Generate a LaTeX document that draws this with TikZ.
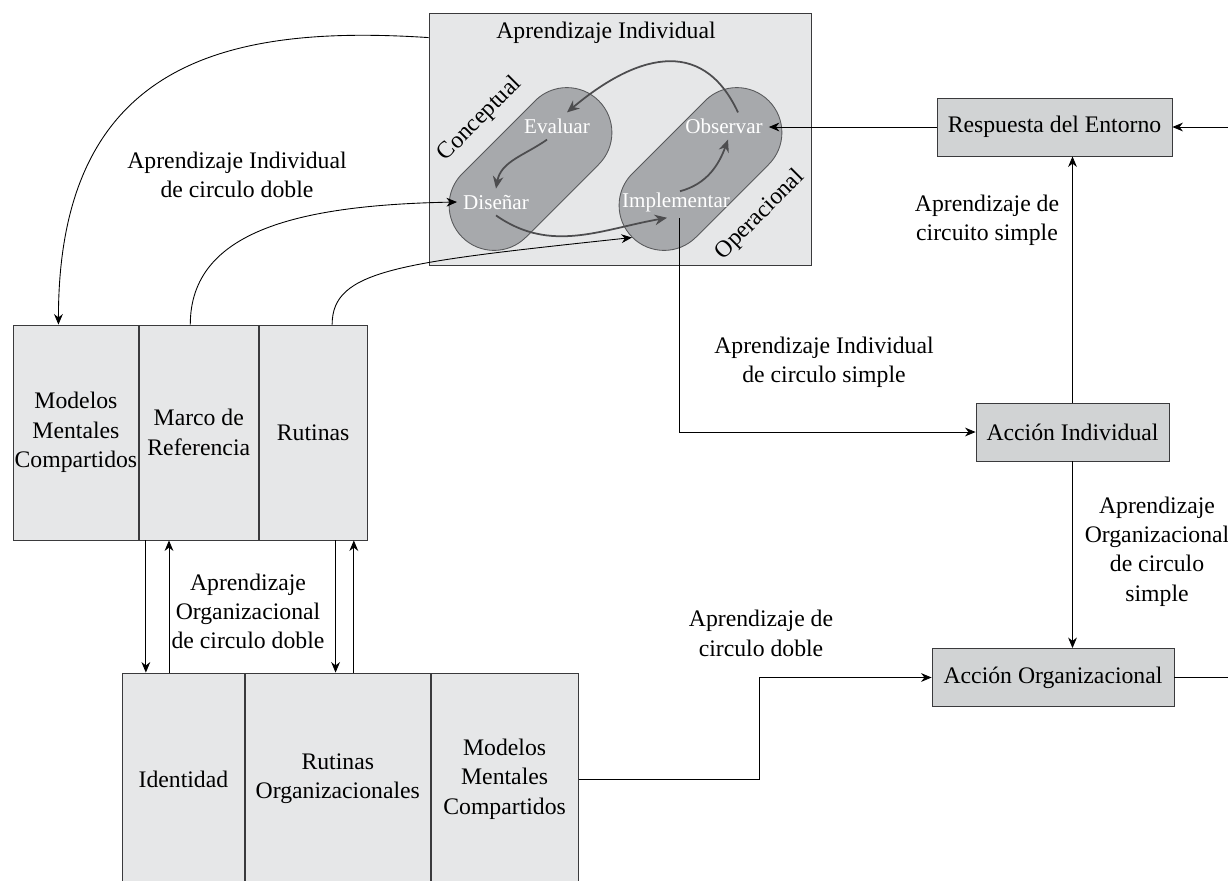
\documentclass[tikz,border=0pt]{standalone}
\usepackage{fontspec}
\setmainfont{Liberation Serif}
\usetikzlibrary{shapes.misc,arrows.meta,positioning}

\definecolor{boxfill}{HTML}{E6E7E8}
\definecolor{actfill}{HTML}{D1D3D4}
\definecolor{pillfill}{HTML}{A7A9AC}
\definecolor{pilldraw}{HTML}{58595B}
\definecolor{cycgray}{HTML}{4D4D4F}
\definecolor{framec}{HTML}{3A3A3C}

\begin{document}
\begin{tikzpicture}[x=0.02cm, y=0.02cm,
                >={Stealth[length=6pt,width=5pt]},
                every node/.style={font=\fontsize{13.5}{16.7}\selectfont},
                colbox/.style={draw=framec, rectangle, line width=0.5pt,
                fill=boxfill, inner sep=0pt, align=center, anchor=west},
                actbox/.style={draw=framec, rectangle, line width=0.5pt,
                fill=actfill, minimum height=1.16cm, inner sep=0pt},
                % the two rotated capsules
                pill/.style={draw=pilldraw, fill=pillfill, rounded rectangle,
                line width=0.5pt, minimum width=3.86cm, minimum height=1.8cm,
                inner sep=0pt, rotate=45},
                phase/.style={text=white, font=\fontsize{12}{14}\selectfont},
                lbl/.style={align=center},
                conn/.style={->, line width=0.5pt},
                cyc/.style={->, draw=cycgray, line width=1pt,
                >={Stealth[length=7pt,width=6pt]}}
                ]
  \clip (0,0) rectangle (1228,-880);

%% Aprendizaje Individual
  \node[draw=framec, fill=boxfill, line width=0.5pt, minimum width=7.64cm,
        minimum height=5.04cm, inner sep=0pt] (aibox) at (620,-139) {};
  \node (aititle) at (606,-33) {Aprendizaje Individual};
  \node[pill] (concep) at (530.5,-169) {};
  \node[pill] (operac) at (700.5,-169) {};
  \node[rotate=45] (conlbl) at (480,-119) {Conceptual};
  \node[rotate=45] (oplbl) at (760,-215) {Operacional};
  \node[phase] (evaluar) at (557,-126) {Evaluar};
  \node[phase] (disenar) at (496,-202) {Diseñar};
  \node[phase] (observar) at (724,-126) {Observar};
  \node[phase] (implementar) at (676,-202) {Implementar};

%% upper block
  \node[colbox, minimum width=2.5cm, minimum height=4.3cm] (mmc1) at (13,-432.5)
        {Modelos\\Mentales\\Compartidos};
  \node[colbox, minimum width=2.38cm, minimum height=4.3cm, right=0pt of mmc1] (marco)
        {Marco de\\Referencia};
  \node[colbox, minimum width=2.16cm, minimum height=4.3cm, right=0pt of marco] (rutinas)
        {Rutinas};

%% lower block
  \node[colbox, minimum width=2.44cm, minimum height=4.24cm] (identidad) at (122,-779)
        {Identidad};
  \node[colbox, minimum width=3.7cm, minimum height=4.24cm, right=0pt of identidad] (rutorg)
        {Rutinas\\Organizacionales};
  \node[colbox, minimum width=2.94cm, minimum height=4.24cm, right=0pt of rutorg] (mmc2)
        {Modelos\\Mentales\\Compartidos};

%% actions
  \node[actbox, minimum width=4.7cm] (respuesta) at (1054.5,-127) {Respuesta del Entorno};
  \node[actbox, minimum width=3.86cm] (accind) at (1072.5,-432) {Acción Individual};
  \node[actbox, minimum width=4.84cm] (accorg) at (1053,-677.5) {Acción Organizacional};

%% labels
  \node[lbl] (l1) at (237,-175) {Aprendizaje Individual\\de circulo doble};
  \node[lbl] (l2) at (248,-611.5) {Aprendizaje\\Organizacional\\de circulo doble};
  \node[lbl] (l3) at (824,-362.5) {Aprendizaje Individual\\de circulo simple};
  \node[lbl] (l4) at (987,-220.5) {Aprendizaje de\\circuito simple};
  \node[lbl] (l5) at (1157,-551.5) {Aprendizaje\\Organizacional\\de circulo\\simple};
  \node[lbl] (l6) at (761,-633.5) {Aprendizaje de\\circulo doble};

%% inner cycle
  \draw[cyc] ([xshift=0.28cm]observar.north) to[out=115,in=40,looseness=1.3] ([xshift=0.2cm]evaluar.north);
  \draw[cyc] ([xshift=-0.2cm]evaluar.south) to[out=215,in=80] (disenar.north);
  \draw[cyc] (disenar.south) to[out=-35,in=190] ([xshift=-0.18cm]implementar.south);
  \draw[cyc] ([xshift=0.08cm,yshift=-0.1cm]implementar.north) to[out=15,in=250] ([xshift=0.08cm]observar.south);

%% double loop curves
  \draw[conn] ([yshift=-0.5cm]aibox.north west) .. controls +(-199,13) and +(0,265) .. ([xshift=-0.35cm]mmc1.north);
  \draw[conn] ([xshift=-0.17cm]marco.north) .. controls +(0,95) and +(-155,-3) .. (disenar.west);
  \draw[conn] ([xshift=0.38cm]rutinas.north) .. controls +(0,55) and +(-233,-25) .. (operac.west);

%% between blocks
  \coordinate (d1) at ([xshift=0.14cm]mmc1.south east);
  \coordinate (u1) at ([xshift=0.94cm]identidad.north west);
  \coordinate (d2) at ([xshift=-0.64cm]rutinas.south east);
  \coordinate (u2) at ([xshift=2.18cm]rutorg.north west);
  \draw[conn] (d1) -- (d1 |- identidad.north);
  \draw[conn] (u1) -- (u1 |- mmc1.south);
  \draw[conn] (d2) -- (d2 |- rutorg.north);
  \draw[conn] (u2) -- (u2 |- rutinas.south);

%% right side
  \coordinate (edgeR) at (1228,-127);
  \coordinate (edgeO) at (1228,-677.5);
  \draw[conn] (edgeR) -- (respuesta.east);
  \draw[conn] (respuesta.west) -- (respuesta.west -| observar.east);
  \draw[conn] ([xshift=0.06cm]implementar.south) |- (accind.west);
  \draw[conn] (accind.north) -- (accind.north |- respuesta.south);
  \draw[conn] (accind.south) -- (accind.south |- accorg.north);
  \draw[line width=0.5pt] (accorg.east) -- (edgeO);
  \draw[conn] (mmc2.east) -- ++(181,0) |- (accorg.west);

\end{tikzpicture}
\end{document}
